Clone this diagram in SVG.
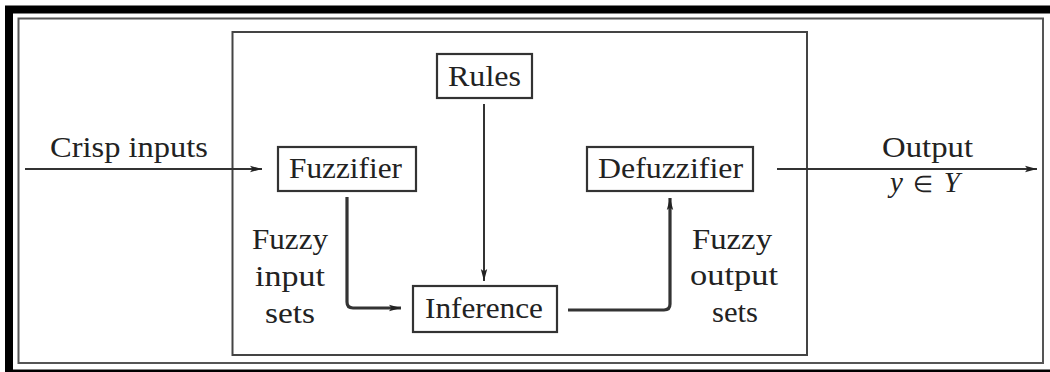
<svg xmlns="http://www.w3.org/2000/svg" width="1050" height="372" viewBox="0 0 1050 372">
<defs>
<style>
.t{font-family:"Liberation Serif","Times New Roman",serif;font-size:29px;fill:#222}
.box{fill:#fff;stroke:#333;stroke-width:2.2}
.ln{fill:none;stroke:#333;stroke-width:2}
.thk{fill:none;stroke:#333;stroke-width:3.2}
</style>
<marker id="ah" viewBox="0 0 12 8" refX="12" refY="4" markerWidth="12" markerHeight="8" markerUnits="userSpaceOnUse" orient="auto">
<path d="M0,0.8 L12,4 L0,7.2 L2.5,4 Z" fill="#222"/>
</marker>
</defs>
<rect width="1050" height="372" fill="#fff"/>
<g id="frame">
<rect x="9" y="9.5" width="1060" height="364" fill="none" stroke="#000" stroke-width="8"/>
<rect x="18.5" y="18.5" width="1024.5" height="344.5" fill="none" stroke="#555" stroke-width="2"/>
<rect x="232.5" y="32" width="574.5" height="323" fill="none" stroke="#444" stroke-width="2"/>
</g>
<g id="connectors">
<line class="ln" x1="25" y1="169" x2="262" y2="169" marker-end="url(#ah)"/>
<line class="ln" x1="484" y1="104" x2="484" y2="281" marker-end="url(#ah)"/>
<path class="thk" d="M347,197 V302 Q347,308 353,308 H401" marker-end="url(#ah)"/>
<path class="thk" d="M568,310 H664 Q670,310 670,304 V198" marker-end="url(#ah)"/>
<line class="ln" x1="777" y1="169" x2="1037" y2="169" marker-end="url(#ah)"/>
</g>
<g id="rules">
<rect class="box" x="437" y="54" width="95" height="44"/>
<text class="t" x="448" y="86" textLength="73" lengthAdjust="spacingAndGlyphs">Rules</text>
</g>
<g id="fuzzifier">
<rect class="box" x="278" y="147" width="138" height="44"/>
<text class="t" x="289" y="178" textLength="113" lengthAdjust="spacingAndGlyphs">Fuzzifier</text>
</g>
<g id="defuzzifier">
<rect class="box" x="587" y="147" width="166" height="44"/>
<text class="t" x="598" y="178" textLength="145" lengthAdjust="spacingAndGlyphs">Defuzzifier</text>
</g>
<g id="inference">
<rect class="box" x="413" y="286" width="144" height="46"/>
<text class="t" x="425" y="318" textLength="118" lengthAdjust="spacingAndGlyphs">Inference</text>
</g>
<g id="labels">
<text class="t" x="50" y="157" textLength="158" lengthAdjust="spacingAndGlyphs">Crisp inputs</text>
<text class="t" x="882" y="157" textLength="91" lengthAdjust="spacingAndGlyphs">Output</text>
<text class="t" x="890" y="192" textLength="70"><tspan font-style="italic">y</tspan> <tspan font-size="23">∈</tspan> <tspan font-style="italic">Y</tspan></text>
<text class="t" x="252" y="249" textLength="76" lengthAdjust="spacingAndGlyphs">Fuzzy</text>
<text class="t" x="255" y="286" textLength="70" lengthAdjust="spacingAndGlyphs">input</text>
<text class="t" x="265" y="323" textLength="50" lengthAdjust="spacingAndGlyphs">sets</text>
<text class="t" x="692" y="249" textLength="80" lengthAdjust="spacingAndGlyphs">Fuzzy</text>
<text class="t" x="690" y="285" textLength="88" lengthAdjust="spacingAndGlyphs">output</text>
<text class="t" x="712" y="322" textLength="46" lengthAdjust="spacingAndGlyphs">sets</text>
</g>
</svg>
